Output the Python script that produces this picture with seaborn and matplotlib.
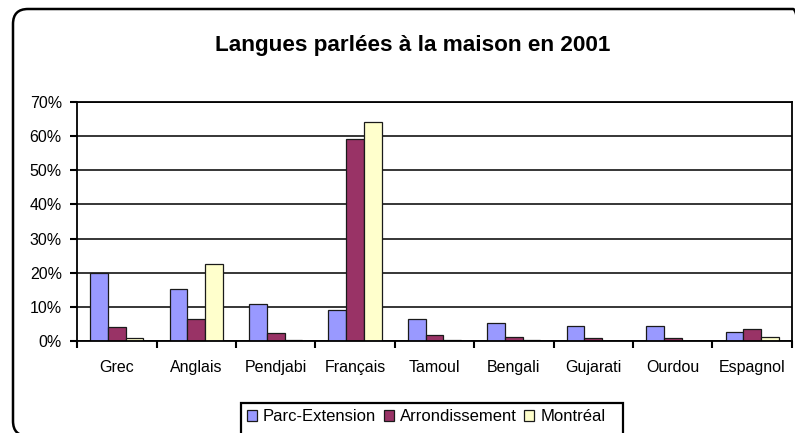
import numpy as np
import pandas as pd
import seaborn as sns
import matplotlib.pyplot as plt
from matplotlib.patches import FancyBboxPatch, Rectangle
from matplotlib.transforms import IdentityTransform
from matplotlib.ticker import PercentFormatter, FixedLocator

# values (share of population, 0-1)
langues = ["Grec", "Anglais", "Pendjabi", "Français", "Tamoul",
           "Bengali", "Gujarati", "Ourdou", "Espagnol"]
parc_extension = [0.200, 0.152, 0.108, 0.090, 0.063, 0.053, 0.045, 0.045, 0.027]
arrondissement = [0.040, 0.063, 0.022, 0.593, 0.018, 0.011, 0.008, 0.008, 0.035]
montreal = [0.008, 0.226, 0.003, 0.640, 0.002, 0.002, 0.001, 0.001, 0.012]
series = ["Parc-Extension", "Arrondissement", "Montréal"]
colors = ["#9999FF", "#993366", "#FFFFCC"]

df = pd.DataFrame({
    "langue": langues * 3,
    "part": parc_extension + arrondissement + montreal,
    "zone": [s for s in series for _ in langues],
})

sns.set_style("white")
plt.rcParams["font.family"] = ["Liberation Sans", "DejaVu Sans"]
plt.rcParams["text.color"] = "black"

fig = plt.figure(figsize=(7.95, 4.33), dpi=100)
ax = fig.add_axes([0.097, 0.2125, 0.899, 0.552])

sns.barplot(data=df, x="langue", y="part", hue="zone", palette=colors,
            width=0.67, gap=0, edgecolor="#1a1a1a", linewidth=0.9,
            saturation=1, ax=ax, legend=True)

ax.set_ylim(0, 0.70)
ax.set_xlim(-0.5, len(langues) - 0.5)
ax.set_yticks(np.arange(0, 0.71, 0.1))
ax.yaxis.set_major_formatter(PercentFormatter(1.0, decimals=0))
ax.yaxis.grid(True, color="black", linewidth=1.1)
ax.set_axisbelow(True)
ax.set_xlabel("")
ax.set_ylabel("")

# ticks between categories, labels centred without ticks
ax.xaxis.set_minor_locator(FixedLocator(np.arange(-0.5, len(langues), 1.0)))
ax.tick_params(axis="x", which="major", length=0, pad=14, labelsize=11.5, colors="black")
ax.tick_params(axis="x", which="minor", length=5, width=1.5, color="black", direction="out", bottom=True)
ax.tick_params(axis="y", length=5, width=1.5, color="black", direction="out",
               left=True, labelsize=11.5, pad=6, labelcolor="black")
for side in ["left", "bottom", "right", "top"]:
    ax.spines[side].set_visible(True)
    ax.spines[side].set_color("black")
    ax.spines[side].set_linewidth(1.3)

handles, labels = ax.get_legend_handles_labels()
ax.get_legend().remove()
fig.legend(handles, labels, loc="upper left", bbox_to_anchor=(0.304, 0.066),
           ncol=3, frameon=False, fontsize=12, handlelength=0.62,
           handleheight=0.62, handletextpad=0.35, columnspacing=0.45,
           borderpad=0.3, borderaxespad=0)

# legend frame, cut by the bottom edge of the image
fig.add_artist(Rectangle((241, -10), 382, 40, transform=IdentityTransform(),
                         fill=False, edgecolor="black", linewidth=1.6))

fig.text(0.519, 0.895, "Langues parlées à la maison en 2001",
         ha="center", va="center", fontsize=16.2, fontweight="bold")

# rounded outer chart border (partly cut by the image edge)
fig.add_artist(FancyBboxPatch((13, -3), 795, 427,
                              boxstyle="round,pad=0,rounding_size=15",
                              transform=IdentityTransform(), fill=False,
                              edgecolor="black", linewidth=1.8))

fig.savefig("out.png", dpi=100)
